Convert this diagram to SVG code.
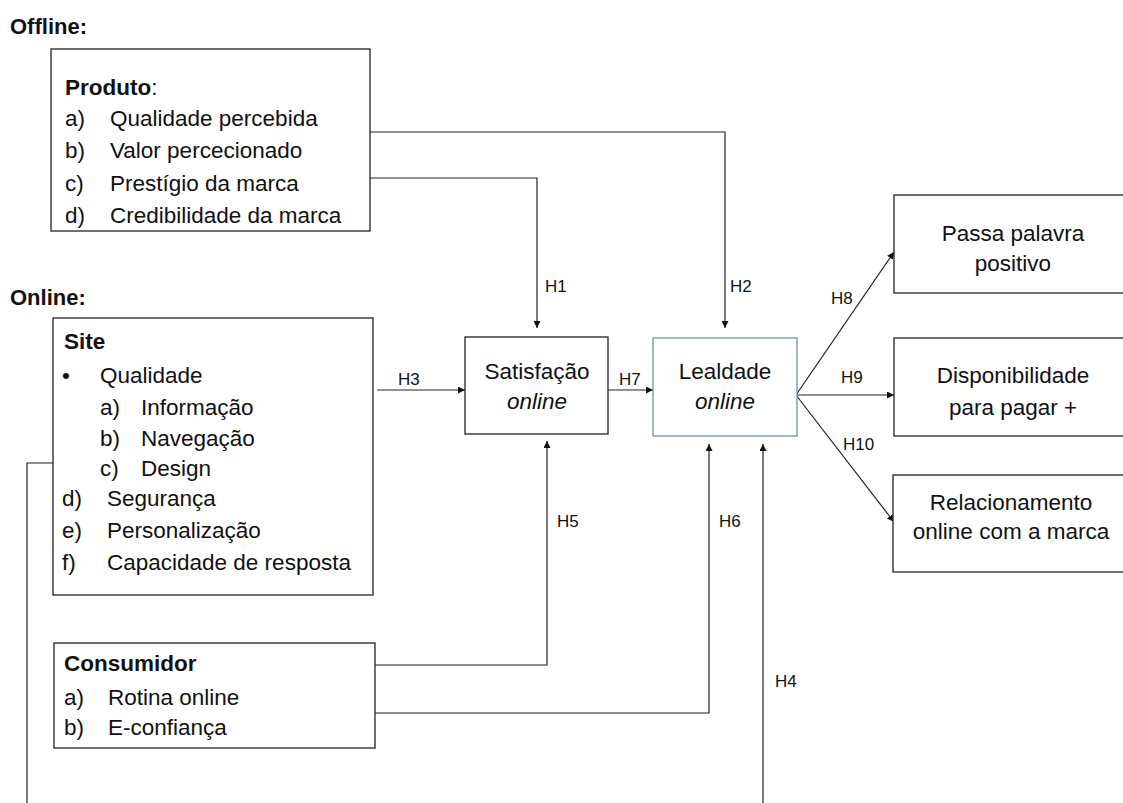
<svg xmlns="http://www.w3.org/2000/svg" width="1123" height="803" viewBox="0 0 1123 803">
<style>
text{font-family:"Liberation Sans",Arial,sans-serif;font-size:22.5px;fill:#111}
.b{font-weight:bold}
.h{font-weight:bold;font-size:22px}
.i{font-style:italic}
.c{text-anchor:middle}
.s{font-size:17px}
.box{fill:#fff;stroke:#222;stroke-width:1.3}
.blue{fill:#fff;stroke:#6f8fb8;stroke-width:1.3}
.ln{fill:none;stroke:#222;stroke-width:1.2}
.ar{fill:none;stroke:#222;stroke-width:1.2;marker-end:url(#ah)}
</style>
<defs>
<marker id="ah" viewBox="0 0 10 10" refX="10" refY="5" markerWidth="7" markerHeight="7" markerUnits="userSpaceOnUse" orient="auto"><path d="M0,0 L10,5 L0,10 z" fill="#111"/></marker>
</defs>
<text class="h" x="10" y="34">Offline:</text>
<text class="h" x="10" y="305">Online:</text>
<g id="connectors">
<polyline class="ar" points="370,132 725,132 725,328"/>
<polyline class="ar" points="370,178 537,178 537,328"/>
<line class="ar" x1="377" y1="390" x2="465" y2="390"/>
<line class="ar" x1="608" y1="390" x2="653" y2="390"/>
<polyline class="ar" points="375,665 547,665 547,441"/>
<polyline class="ar" points="375,713 709,713 709,444"/>
<polyline class="ar" points="53,463 27,463 27,810 763,810 763,444"/>
<line class="ar" x1="796" y1="395" x2="894" y2="252"/>
<line class="ar" x1="796" y1="395" x2="894" y2="395"/>
<line class="ar" x1="796" y1="395" x2="894" y2="522"/>
<text class="s" x="545" y="292">H1</text>
<text class="s" x="730" y="292">H2</text>
<text class="s" x="398" y="385">H3</text>
<text class="s" x="619" y="385">H7</text>
<text class="s" x="557" y="527">H5</text>
<text class="s" x="719" y="527">H6</text>
<text class="s" x="775" y="687">H4</text>
<text class="s" x="831" y="304">H8</text>
<text class="s" x="841" y="383">H9</text>
<text class="s" x="843" y="450">H10</text>
</g>
<g id="produto">
<rect class="box" x="51" y="49" width="319" height="182"/>
<text x="65" y="95"><tspan class="b">Produto</tspan>:</text>
<text x="65" y="126">a)</text><text x="110" y="126">Qualidade percebida</text>
<text x="65" y="158">b)</text><text x="110" y="158">Valor percecionado</text>
<text x="65" y="191">c)</text><text x="110" y="191">Prestígio da marca</text>
<text x="65" y="223">d)</text><text x="110" y="223">Credibilidade da marca</text>
</g>
<g id="site">
<rect class="box" x="53" y="318" width="320" height="277"/>
<text class="b" x="64" y="349">Site</text>
<text x="62" y="383">•</text><text x="100" y="383">Qualidade</text>
<text x="100" y="415">a)</text><text x="141" y="415">Informação</text>
<text x="100" y="446">b)</text><text x="141" y="446">Navegação</text>
<text x="100" y="476">c)</text><text x="141" y="476">Design</text>
<text x="62" y="506">d)</text><text x="107" y="506">Segurança</text>
<text x="62" y="538">e)</text><text x="107" y="538">Personalização</text>
<text x="62" y="570">f)</text><text x="107" y="570">Capacidade de resposta</text>
</g>
<g id="consumidor">
<rect class="box" x="54" y="643" width="321" height="105"/>
<text class="b" x="64" y="671">Consumidor</text>
<text x="64" y="705">a)</text><text x="108" y="705">Rotina online</text>
<text x="64" y="735">b)</text><text x="108" y="735">E-confiança</text>
</g>
<g id="satisfacao">
<rect class="box" x="465" y="337" width="143" height="97"/>
<text class="c" x="537" y="379">Satisfação</text>
<text class="c i" x="537" y="409">online</text>
</g>
<g id="lealdade">
<rect class="blue" x="653" y="338" width="144" height="98"/>
<text class="c" x="725" y="379">Lealdade</text>
<text class="c i" x="725" y="409">online</text>
</g>
<g id="passa">
<rect class="box" x="894" y="195" width="240" height="98"/>
<text class="c" x="1013" y="241">Passa palavra</text>
<text class="c" x="1013" y="271">positivo</text>
</g>
<g id="disponibilidade">
<rect class="box" x="894" y="338" width="240" height="98"/>
<text class="c" x="1013" y="383">Disponibilidade</text>
<text class="c" x="1013" y="415">para pagar +</text>
</g>
<g id="relacionamento">
<rect class="box" x="893" y="475" width="240" height="97"/>
<text class="c" x="1011" y="510">Relacionamento</text>
<text class="c" x="1011" y="539">online com a marca</text>
</g>
</svg>
